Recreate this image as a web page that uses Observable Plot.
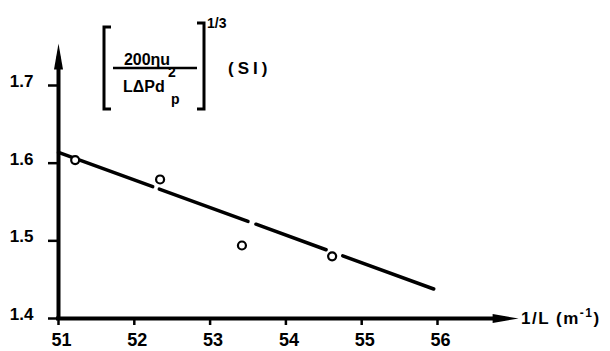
<!DOCTYPE html>
<html><head><meta charset="utf-8">
<script src="https://cdn.jsdelivr.net/npm/d3@7"></script>
<script src="https://cdn.jsdelivr.net/npm/@observablehq/plot@0.6"></script>
<style>
html,body{margin:0;padding:0;background:#fff;}
</style>
</head><body><div id="chart"></div>
<script>
// ---- data ----
const xTicks = [51, 52, 53, 54, 55, 56];
const xTickLabels = ["51", "52", "53", "54", "55", "56"];
const yTicks = [1.4, 1.5, 1.6, 1.7];
const yTickLabels = ["1.4", "1.5", "1.6", "1.7"];
const pointX = [51.22, 52.34, 53.42, 54.61];
const pointY = [1.604, 1.579, 1.494, 1.480];
// fitted straight line, drawn in pieces (gaps as in the original drawing)
const fitX1 = [51.0, 52.33, 53.605, 54.75];
const fitY1 = [1.614, 1.5667, 1.5214, 1.4807];
const fitX2 = [52.243, 53.50, 54.53, 55.95];
const fitY2 = [1.5698, 1.5251, 1.4885, 1.438];
const xAxisEnd = 57.07;
const yAxisEnd = 1.754;

const FONT = "'Liberation Sans', Arial, 'DejaVu Sans', sans-serif";

const points = pointX.map((x, i) => ({x, y: pointY[i]}));
const segments = fitX1.map((x1, i) => ({x1, y1: fitY1[i], x2: fitX2[i], y2: fitY2[i]}));

const arrowSym = {
  draw(ctx) {
    ctx.moveTo(0, 0);
    ctx.lineTo(-4.5, 26);
    ctx.lineTo(4.5, 26);
    ctx.closePath();
  }
};

function labels(index, scales) {
  const g = d3.create("svg:g")
    .attr("font-family", FONT).attr("font-weight", "bold").attr("fill", "#000")
    .attr("text-anchor", "start");
  // x-axis label
  const xl = g.append("text")
    .attr("x", scales.x(xAxisEnd) + 3).attr("y", scales.y(1.4) + 6)
    .attr("font-size", 17).attr("letter-spacing", 1.5);
  xl.append("tspan").text("1/L (m");
  xl.append("tspan").attr("dy", -7).attr("font-size", 12).text("-1");
  xl.append("tspan").attr("dy", 7).text(")");

  // y-axis label: [200ηu / LΔPd_p²]^(1/3) (SI)
  const ox = scales.x(51), oy = scales.y(1.7);
  const path = d3.path();
  path.moveTo(ox + 53, oy - 58); path.lineTo(ox + 46, oy - 58); path.lineTo(ox + 46, oy + 24); path.lineTo(ox + 53, oy + 24);
  path.moveTo(ox + 139, oy - 62); path.lineTo(ox + 146, oy - 62); path.lineTo(ox + 146, oy + 24); path.lineTo(ox + 139, oy + 24);
  g.append("path").attr("d", path.toString()).attr("fill", "none").attr("stroke", "#000").attr("stroke-width", 3);
  g.append("line").attr("x1", ox + 55).attr("x2", ox + 139).attr("y1", oy - 17).attr("y2", oy - 17)
    .attr("stroke", "#000").attr("stroke-width", 2.5);
  g.append("text").attr("x", ox + 89).attr("y", oy - 20).attr("text-anchor", "middle")
    .attr("font-size", 16).text("200ηu");
  g.append("text").attr("x", ox + 65).attr("y", oy + 7).attr("font-size", 16).text("LΔPd");
  g.append("text").attr("x", ox + 110).attr("y", oy - 8).attr("font-size", 14).text("2");
  g.append("text").attr("x", ox + 113).attr("y", oy + 19).attr("font-size", 14).text("p");
  g.append("text").attr("x", ox + 149).attr("y", oy - 57).attr("font-size", 14).text("1/3");
  g.append("text").attr("x", ox + 170).attr("y", oy - 11).attr("font-size", 17)
    .attr("letter-spacing", 4).text("(SI)");
  return g.node();
}

const chart = Plot.plot({
  width: 610,
  height: 351,
  marginLeft: 58,
  marginRight: 173,
  marginTop: 85,
  marginBottom: 33,
  style: {fontFamily: FONT, fontWeight: "bold", background: "#fff", color: "#000"},
  x: {domain: [51, 56]},
  y: {domain: [1.4, 1.7]},
  marks: [
    // ticks
    Plot.axisX({ticks: xTicks, tickSize: 7, tickFormat: () => "", strokeWidth: 2.5, label: null}),
    Plot.axisX({ticks: xTicks, tickSize: 0, tickPadding: 15, dx: 3, fontSize: 18,
      tickFormat: d => xTickLabels[xTicks.indexOf(d)], label: null}),
    Plot.axisY({ticks: yTicks, tickSize: 10, tickFormat: () => "", strokeWidth: 2.5, label: null}),
    Plot.axisY({ticks: yTicks, tickSize: 0, tickPadding: 25, dy: -4, fontSize: 17,
      tickFormat: d => yTickLabels[yTicks.indexOf(d)], label: null}),
    // axis lines
    Plot.ruleY([1.4], {x1: 51, x2: xAxisEnd - 0.2, strokeWidth: 4, strokeLinecap: "square"}),
    Plot.ruleX([51], {y1: 1.4, y2: yAxisEnd - 0.02, strokeWidth: 4, strokeLinecap: "square"}),
    Plot.dot([{x: xAxisEnd, y: 1.4}], {x: "x", y: "y", symbol: arrowSym, rotate: 90, fill: "#000", stroke: null}),
    Plot.dot([{x: 51, y: yAxisEnd}], {x: "x", y: "y", symbol: arrowSym, fill: "#000", stroke: null}),
    // fitted line
    Plot.link(segments, {x1: "x1", y1: "y1", x2: "x2", y2: "y2", stroke: "#000", strokeWidth: 3.5, strokeLinecap: "round"}),
    // measured points
    Plot.dot(points, {x: "x", y: "y", r: 4, stroke: "#000", strokeWidth: 2.2, fill: "#fff"}),
    labels
  ]
});
document.getElementById("chart").appendChild(chart);
</script>
</body></html>
